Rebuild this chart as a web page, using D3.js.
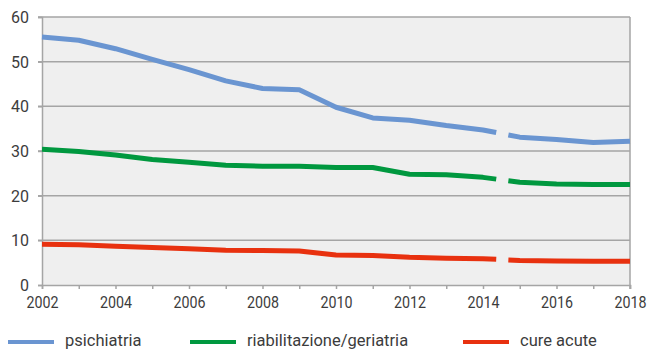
<!DOCTYPE html>
<html>
<head>
<meta charset="utf-8">
<script src="https://cdn.jsdelivr.net/npm/d3@7"></script>
<style>
  html, body { margin: 0; padding: 0; background: #fff; }
  svg { display: block; font-family: Roboto, "Noto Sans", sans-serif; }
</style>
</head>
<body>
<svg id="chart" width="651" height="351"></svg>
<script>
// Years and rates per series; the series break between 2014 and 2015
const years = [2002, 2003, 2004, 2005, 2006, 2007, 2008, 2009, 2010, 2011, 2012, 2013, 2014, 2015, 2016, 2017, 2018];
const psichiatria = [55.5, 54.8, 52.9, 50.5, 48.2, 45.7, 44.0, 43.7, 39.8, 37.4, 36.9, 35.7, 34.7, 33.1, 32.6, 31.9, 32.2];
const riabilitazione = [30.4, 29.9, 29.1, 28.1, 27.5, 26.8, 26.6, 26.6, 26.3, 26.3, 24.8, 24.7, 24.1, 23.0, 22.6, 22.5, 22.5];
const cureAcute = [9.1, 9.0, 8.7, 8.4, 8.1, 7.8, 7.7, 7.6, 6.7, 6.6, 6.2, 6.0, 5.9, 5.5, 5.4, 5.3, 5.3];
const seriesNames = ["psichiatria", "riabilitazione/geriatria", "cure acute"];
const seriesColors = ["#6a95d1", "#00983f", "#e8310f"];
const xTicks = [2002, 2004, 2006, 2008, 2010, 2012, 2014, 2016, 2018];
const yTicks = [0, 10, 20, 30, 40, 50, 60];
const breakAfter = 2014;

const series = [psichiatria, riabilitazione, cureAcute].map((vals, i) => ({
  name: seriesNames[i], color: seriesColors[i],
  points: years.map((y, j) => ({ year: y, value: vals[j] }))
}));

const svg = d3.select("#chart");
const x = d3.scaleLinear().domain([2002, 2018]).range([42, 630]);
const y = d3.scaleLinear().domain([0, 60]).range([285, 17]);

const gridColor = "#a5a5a5";
const textColor = "#3c3c3c";

// plot background
svg.append("rect")
  .attr("x", x(2002)).attr("y", y(60))
  .attr("width", x(2018) - x(2002)).attr("height", y(0) - y(60))
  .attr("fill", "#efefef");

// horizontal gridlines with short outward ticks
svg.append("g").selectAll("line").data(yTicks.filter(d => d > 0)).join("line")
  .attr("x1", x(2002) - 4).attr("x2", x(2018))
  .attr("y1", d => y(d)).attr("y2", d => y(d))
  .attr("stroke", gridColor).attr("stroke-width", 1.5);

// right border
svg.append("line")
  .attr("x1", x(2018)).attr("x2", x(2018))
  .attr("y1", y(60)).attr("y2", y(0) + 4)
  .attr("stroke", gridColor).attr("stroke-width", 1.5);

// y axis
const yAxis = svg.append("g")
  .attr("transform", `translate(${x(2002)},0)`)
  .call(d3.axisLeft(y).tickValues(yTicks).tickSize(4).tickPadding(9).tickFormat(d3.format("d")));
yAxis.select(".domain").attr("stroke", gridColor).attr("stroke-width", 1.5);
yAxis.selectAll(".tick line").attr("stroke", gridColor).attr("stroke-width", 1.5);
yAxis.selectAll(".tick text").attr("fill", textColor)
  .style("font-size", "16px").style("font-family", "Roboto, sans-serif").attr("dy", "0.35em");

// x axis with a tick at every year; labels slightly narrowed
const xAxis = svg.append("g")
  .attr("transform", `translate(0,${y(0)})`)
  .call(d3.axisBottom(x).tickValues(years).tickSize(4).tickPadding(8)
    .tickFormat(d => xTicks.includes(d) ? String(d) : ""));
xAxis.select(".domain").attr("stroke", gridColor).attr("stroke-width", 1.5);
xAxis.selectAll(".tick line").attr("stroke", gridColor).attr("stroke-width", 1.5);
xAxis.selectAll(".tick text").attr("fill", textColor)
  .style("font-size", "16px").style("font-family", "Roboto, sans-serif")
  .filter(d => xTicks.includes(d))
  .attr("textLength", 32).attr("lengthAdjust", "spacingAndGlyphs");

// lines: two solid pieces plus a connector with a gap in its middle
const line = d3.line().x(d => x(d.year)).y(d => y(d.value));
const lines = svg.append("g").attr("fill", "none").attr("stroke-width", 5).attr("stroke-linejoin", "round");
series.forEach(s => {
  const before = s.points.filter(p => p.year <= breakAfter);
  const after = s.points.filter(p => p.year > breakAfter);
  const a = before[before.length - 1], b = after[0];
  const lerp = t => ({ year: a.year + (b.year - a.year) * t, value: a.value + (b.value - a.value) * t });
  lines.append("path").attr("d", line([...before, lerp(0.36)])).attr("stroke", s.color);
  lines.append("path").attr("d", line([lerp(0.69), ...after])).attr("stroke", s.color);
});

// legend
const legendX = [8, 190, 463];
const legend = svg.append("g");
series.forEach((s, i) => {
  legend.append("line")
    .attr("x1", legendX[i]).attr("x2", legendX[i] + 46)
    .attr("y1", 342).attr("y2", 342)
    .attr("stroke", s.color).attr("stroke-width", 4);
  legend.append("text")
    .attr("x", legendX[i] + 57).attr("y", 346)
    .attr("fill", textColor).style("font-size", "16.5px")
    .text(s.name);
});
</script>
</body>
</html>
